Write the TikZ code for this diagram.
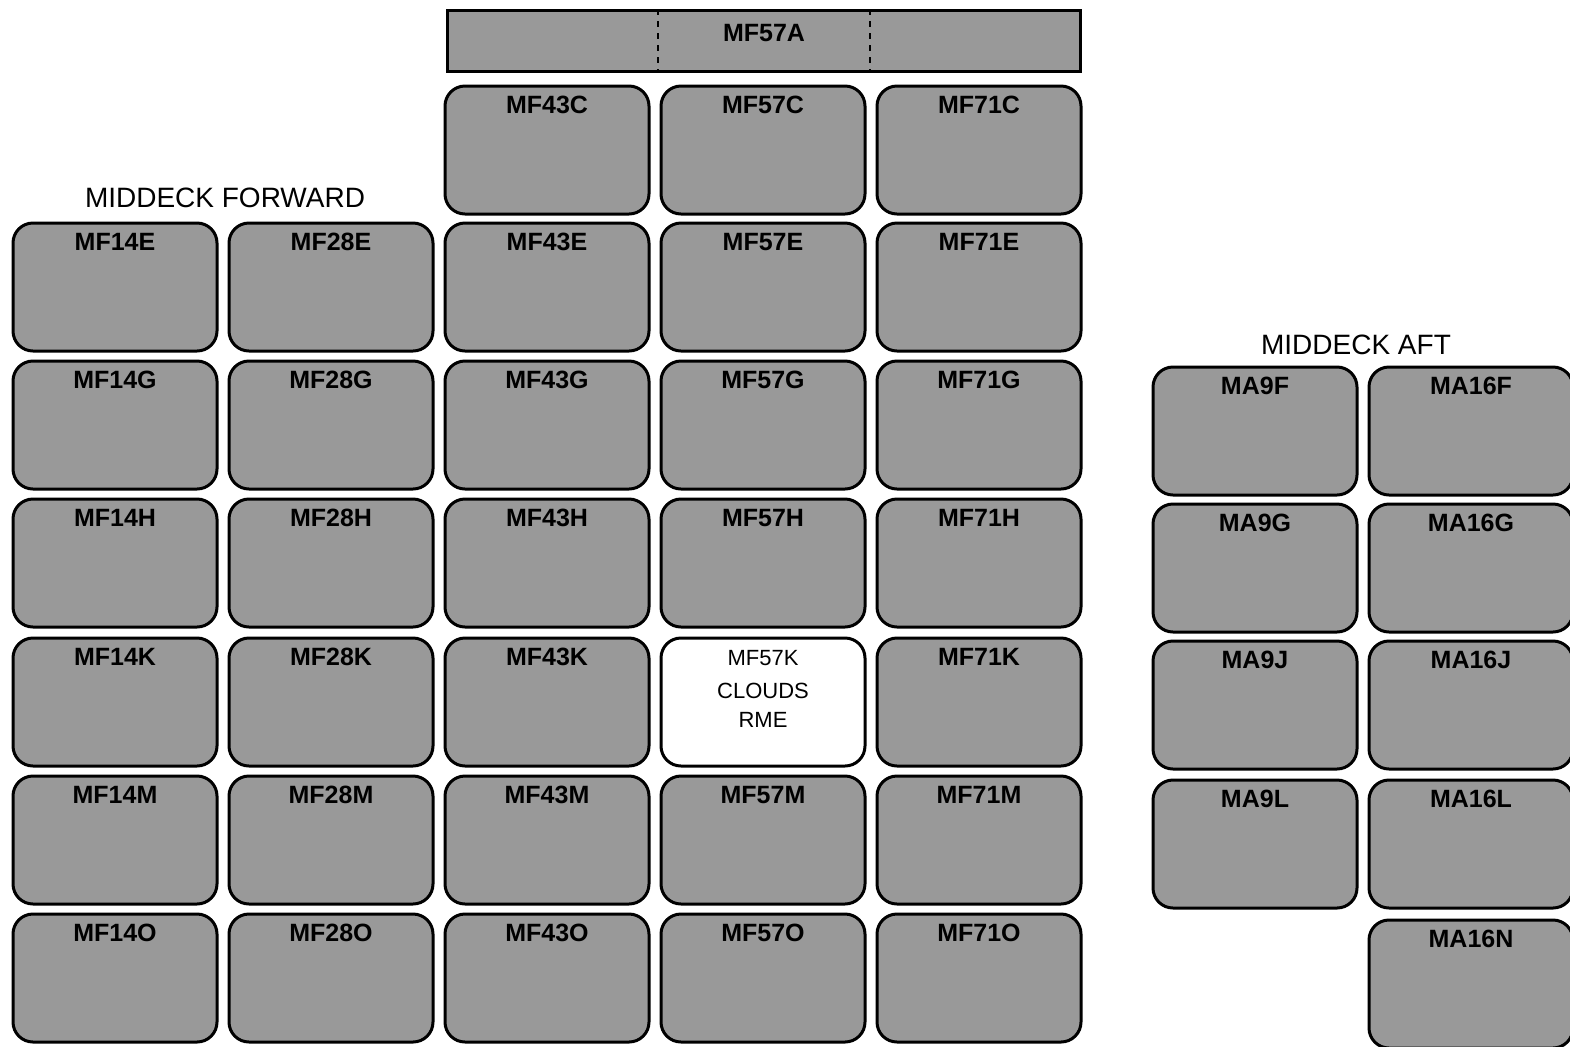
\documentclass[tikz,border=0pt]{standalone}
\usepackage{fontspec}
\setmainfont{Liberation Sans}
\usetikzlibrary{calc}
\newcommand\stowbay[4][black!40]{%
  \node[bay,fill=#1] (#2) at (#3,#4) {};
  \node[baytag] at (#2.north) {#2};}
\begin{document}
\begin{tikzpicture}[x=0.5pt,y=-0.5pt,
  bay/.style={draw,line width=1.5pt,rounded corners=10pt,minimum width=102pt,minimum height=64pt,inner sep=0pt},
  baytag/.style={anchor=north,inner sep=0pt,yshift=-5.75pt,font=\bfseries\fontsize{12.5}{14}\selectfont},
  deck/.style={font=\fontsize{14}{16}\selectfont}]
  \useasboundingbox(0,0)rectangle(1570,1046);
  % top stowage bar
  \node[draw,line width=1.5pt,fill=black!40,minimum width=316.5pt,minimum height=30.5pt,inner sep=0pt](MF57A)at(764,41){};
  \node[baytag,yshift=-1.75pt]at(MF57A.north){MF57A};
  \draw[dashed,line width=1pt]($(MF57A.north west)!1/3!(MF57A.north east)$)--($(MF57A.south west)!1/3!(MF57A.south east)$);
  \draw[dashed,line width=1pt]($(MF57A.north west)!2/3!(MF57A.north east)$)--($(MF57A.south west)!2/3!(MF57A.south east)$);
  % middeck forward
  \node[deck]at(225,198){MIDDECK FORWARD};
  \foreach \c/\x in {43/547,57/763,71/979}
    \stowbay{MF\c C}{\x}{150};
  \foreach \c/\x in {14/115,28/331,43/547,71/979}
    \foreach \r/\y in {E/287,G/425,H/563,K/702,M/840,O/978}
      \stowbay{MF\c\r}{\x}{\y};
  \foreach \r/\y in {E/287,G/425,H/563,M/840,O/978}
    \stowbay{MF57\r}{763}{\y};
  \node[bay,fill=white](MF57K)at(763,702){};
  \node[anchor=north,inner sep=0pt,yshift=-6.5pt,align=center,font=\fontsize{11}{14.5}\selectfont]at(MF57K.north){MF57K\\[2pt]CLOUDS\\RME};
  % middeck aft
  \node[deck]at(1356,345){MIDDECK AFT};
  \foreach \c/\x in {9/1255,16/1471}
    \foreach \r/\y in {F/431,G/568,J/705,L/844}
      \stowbay{MA\c\r}{\x}{\y};
  \stowbay{MA16N}{1471}{984};
\end{tikzpicture}
\end{document}
